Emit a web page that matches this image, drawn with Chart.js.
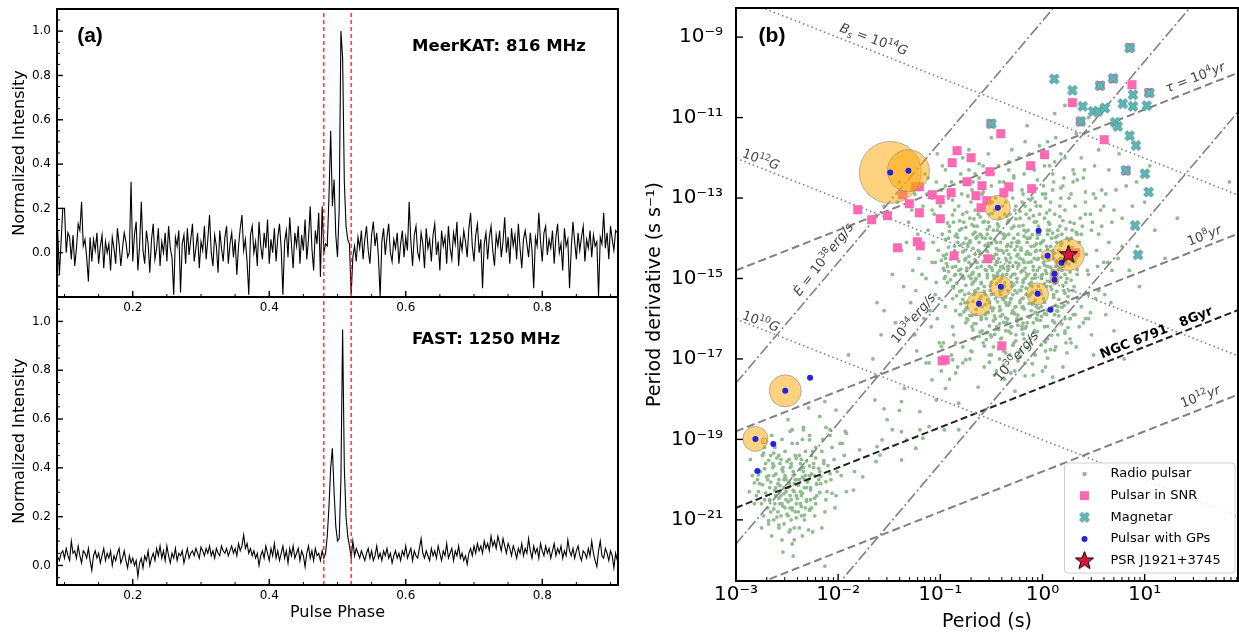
<!DOCTYPE html>
<html>
<head>
<meta charset="utf-8">
<script src="https://cdn.jsdelivr.net/npm/chart.js@4.4.0/dist/chart.umd.min.js"></script>
<style>
  html, body { margin: 0; padding: 0; background: #fff; }
  #wrap { position: relative; width: 1239px; height: 636px; overflow: hidden; }
  canvas { position: absolute; }
</style>
</head>
<body>
<div id="wrap">
  <canvas id="cBot" width="640" height="346" style="left:0;top:290px;width:640px;height:346px"></canvas>
  <canvas id="cTop" width="640" height="330" style="left:0;top:0;width:640px;height:330px"></canvas>
  <canvas id="cRight" width="599" height="636" style="left:640px;top:0;width:599px;height:636px"></canvas>
</div>
<script>
// ---------- panel (a): pulse profiles ----------
const profilePhaseStart = 0.09;
const profilePhaseStep = 0.0025;

const meerkat = [
  0.10,-0.10,0.05,0.20,0.20,0.00,0.09,0.07,-0.03,0.08,-0.06,0.02,0.13,0.10,0.23,0.03,0.06,-0.02,-0.13,0.07,
  -0.04,0.06,0.01,0.09,-0.05,0.03,0.08,-0.07,0.05,0.00,0.04,-0.08,0.07,0.02,-0.05,0.11,0.04,-0.06,0.02,0.09,
  0.05,-0.02,0.00,0.32,-0.04,0.08,0.14,-0.08,0.03,0.23,0.01,-0.05,0.10,0.04,-0.09,0.06,0.13,-0.03,0.02,0.11,
  -0.06,0.05,0.00,0.09,-0.04,0.12,0.02,-0.02,-0.19,0.07,0.03,0.10,-0.18,0.04,0.08,-0.05,0.11,-0.01,0.06,0.13,
  -0.04,0.02,0.09,-0.07,0.05,0.01,0.12,-0.03,0.06,0.17,0.00,-0.06,0.08,0.03,-0.09,0.10,0.02,-0.04,0.07,0.12,
  -0.05,0.04,0.09,-0.02,0.06,-0.10,0.03,0.11,0.17,0.01,0.06,-0.04,-0.19,0.08,0.12,0.00,0.05,-0.06,0.14,0.03,
  -0.03,0.09,0.02,0.15,-0.05,0.06,0.00,0.11,-0.04,0.07,0.13,0.02,-0.19,0.05,0.10,-0.02,0.16,0.04,-0.07,0.09,
  0.03,0.12,-0.05,0.08,0.01,0.15,-0.03,0.06,0.21,0.02,-0.08,0.10,0.04,0.18,-0.11,0.21,0.00,0.04,0.03,0.25,
  0.55,0.21,0.33,0.08,-0.02,0.20,1.00,0.88,0.32,0.12,0.06,0.04,-0.19,-0.02,0.03,-0.04,0.07,0.02,0.10,-0.03,
  0.06,0.12,0.01,-0.05,0.08,0.14,0.03,0.09,-0.02,-0.20,0.05,0.11,-0.01,0.07,0.13,0.00,-0.04,0.06,0.02,0.09,
  -0.05,0.04,0.10,-0.02,0.07,0.01,0.23,0.05,-0.06,0.08,0.12,0.00,-0.03,0.09,0.04,-0.07,0.11,0.02,0.06,-0.04,
  0.08,0.13,-0.01,0.05,-0.08,0.10,0.03,0.07,-0.05,0.12,0.02,-0.03,0.09,0.04,0.14,-0.06,0.06,0.01,0.10,0.05,
  -0.02,0.11,0.18,0.03,-0.04,0.08,0.13,0.00,0.06,-0.16,0.04,0.09,-0.03,0.07,0.12,0.01,-0.06,0.08,0.03,0.10,
  -0.02,0.05,0.16,0.00,0.07,-0.05,0.11,0.03,0.08,-0.03,0.13,0.02,-0.07,0.06,0.10,0.04,-0.02,0.09,0.01,-0.16,
  0.07,0.03,0.18,0.05,-0.04,0.09,0.12,-0.01,0.06,0.02,0.10,-0.05,0.07,0.13,0.00,0.04,-0.08,0.11,0.03,0.06,
  -0.16,0.02,0.14,0.05,-0.03,0.09,0.01,0.07,0.12,-0.04,0.06,0.02,0.10,-0.02,0.08,0.03,0.05,-0.20,0.07,0.04,
  0.18,0.02,0.09,-0.03,0.12,0.06,0.01,0.10,0.09
];

const fast = [
  0.035,0.02,0.05,0.06,0.03,0.07,0.04,0.02,0.10,0.05,0.06,0.03,0.08,0.04,0.01,0.06,0.05,0.03,0.07,0.02,
  -0.02,0.04,0.06,0.03,0.05,0.01,0.04,0.07,0.02,0.05,0.03,0.06,0.00,0.04,0.02,0.05,0.07,0.01,0.03,0.06,
  0.02,-0.01,0.04,0.01,0.03,0.00,0.02,-0.045,0.01,0.03,-0.01,0.04,0.02,0.06,0.00,0.03,0.05,0.02,0.07,0.04,
  0.08,0.03,0.06,0.02,0.08,0.04,0.01,0.05,0.03,0.07,0.02,0.05,0.04,0.06,0.01,0.04,0.07,0.03,0.05,0.06,
  0.04,0.07,0.05,0.03,0.075,0.06,0.04,0.07,0.05,0.08,0.04,0.06,0.03,0.07,0.05,0.04,0.08,0.06,0.05,0.07,
  0.04,0.06,0.08,0.05,0.07,0.04,0.09,0.06,0.08,0.125,0.07,0.09,0.05,0.07,0.04,0.06,0.03,0.05,0.00,0.04,
  0.06,0.03,0.08,0.05,0.02,0.07,0.04,0.09,0.03,0.06,0.02,0.05,0.08,0.03,0.06,0.01,0.07,0.04,0.08,0.03,
  0.05,0.07,0.02,0.06,0.04,-0.005,0.05,0.08,0.03,0.06,0.02,0.07,0.04,0.05,0.02,0.06,0.03,0.05,0.12,0.24,
  0.40,0.48,0.30,0.16,0.10,0.11,0.35,0.967,0.40,0.20,0.12,0.08,0.03,0.10,0.04,0.07,0.05,0.03,0.06,0.04,
  0.02,0.05,0.07,0.03,0.06,0.02,0.04,0.08,0.03,0.05,0.02,0.06,0.04,0.07,0.03,0.05,0.01,0.04,0.06,0.03,
  0.05,0.02,0.06,0.04,0.08,0.03,0.05,0.07,0.02,0.06,0.04,0.03,0.07,0.11,0.05,0.03,0.06,0.04,0.02,0.07,
  0.04,0.06,0.03,0.08,0.05,0.02,0.06,0.04,0.09,0.03,0.05,0.07,0.02,0.06,0.04,0.08,0.03,0.05,0.02,0.04,
  0.005,0.05,0.07,0.04,0.08,0.05,0.09,0.06,0.08,0.05,0.10,0.07,0.09,0.06,0.12,0.08,0.10,0.07,0.12,0.09,
  0.06,0.11,0.08,0.05,0.09,0.07,0.04,0.08,0.06,0.03,0.07,0.05,0.09,0.04,0.07,0.05,0.11,0.06,0.03,0.08,
  0.05,0.07,0.03,0.09,0.06,0.04,0.08,0.05,0.07,0.03,0.06,0.09,0.04,0.07,0.05,0.08,0.03,0.06,0.04,0.105,
  0.06,0.04,0.07,0.03,0.06,0.08,0.04,0.02,0.06,0.05,0.03,0.07,0.04,0.10,0.05,0.02,-0.005,0.06,0.10,0.04,
  0.03,0.07,0.05,0.02,0.06,0.04,-0.01,0.05,0.02
];

const windowEdges = [0.48, 0.52];
const phaseTicks = [0.2, 0.4, 0.6, 0.8];
const intensityTicks = [0, 0.2, 0.4, 0.6, 0.8, 1.0];

// ---------- panel (b): P-Pdot diagram, values are [log10 P, log10 Pdot] ----------
const periodDecades = [-3, -2, -1, 0, 1];
const pdotDecades = [-9, -11, -13, -15, -17, -19, -21];

const radioMain = [
  [-1.52,-13.4],[-1.47,-14.9],[-1.55,-15.8],
  [-1.42,-13.1],[-1.38,-14.3],[-1.36,-15.2],[-1.44,-16.1],[-1.40,-12.6],
  [-1.31,-13.6],[-1.27,-14.8],[-1.34,-12.9],[-1.29,-15.6],[-1.25,-16.4],[-1.33,-14.1],[-1.28,-13.3],
  [-1.21,-14.5],[-1.17,-13.2],[-1.24,-15.3],[-1.19,-12.7],[-1.16,-16.0],[-1.22,-13.9],[-1.18,-14.9],[-1.23,-16.8],[-1.15,-12.4],
  [-1.12,-13.8],[-1.08,-14.6],[-1.05,-15.4],[-1.13,-12.9],[-1.09,-16.2],[-1.06,-13.4],[-1.14,-15.0],[-1.07,-14.1],[-1.11,-17.1],[-1.04,-12.6],[-1.10,-15.8],[-1.08,-13.0],
  [-1.02,-14.3],[-0.97,-13.5],[-1.04,-15.1],[-0.99,-12.8],[-0.96,-14.8],[-1.03,-16.0],[-0.98,-13.9],[-1.01,-15.5],[-0.95,-12.3],[-1.05,-14.6],[-0.97,-16.6],[-1.00,-13.2],[-0.96,-15.0],[-1.03,-11.9],[-0.99,-17.3],
  [-0.92,-14.0],[-0.88,-15.2],[-0.86,-13.3],[-0.93,-14.7],[-0.89,-12.6],[-0.85,-15.8],[-0.91,-13.7],[-0.87,-16.4],[-0.94,-14.4],[-0.90,-12.1],[-0.88,-15.5],[-0.86,-14.2],[-0.92,-13.0],[-0.89,-16.9],[-0.85,-14.9],[-0.93,-15.1],[-0.87,-13.6],[-0.91,-17.5],[-0.95,-14.5],
  [-0.82,-14.8],[-0.78,-13.4],[-0.76,-15.6],[-0.83,-14.1],[-0.79,-12.9],[-0.75,-16.1],[-0.81,-13.8],[-0.77,-15.0],[-0.84,-14.5],[-0.80,-12.4],[-0.78,-16.7],[-0.76,-14.3],[-0.82,-13.2],[-0.79,-15.3],[-0.75,-14.0],[-0.83,-17.2],[-0.77,-13.6],[-0.81,-15.9],[-0.85,-14.7],[-0.78,-12.0],[-0.80,-14.9],[-0.76,-15.4],[-0.84,-13.9],
  [-0.72,-14.6],[-0.68,-13.9],[-0.66,-15.3],[-0.73,-14.2],[-0.69,-12.8],[-0.65,-15.9],[-0.71,-13.5],[-0.67,-16.5],[-0.74,-14.8],[-0.70,-13.1],[-0.68,-15.1],[-0.66,-14.4],[-0.72,-12.3],[-0.69,-16.2],[-0.65,-14.0],[-0.73,-15.6],[-0.67,-13.7],[-0.71,-17.0],[-0.75,-14.5],[-0.68,-12.6],[-0.70,-15.0],[-0.66,-13.3],[-0.74,-16.0],[-0.69,-14.9],[-0.72,-11.8],[-0.67,-15.4],[-0.71,-14.1],
  [-0.62,-14.9],[-0.58,-13.6],[-0.56,-15.4],[-0.63,-14.3],[-0.59,-12.9],[-0.55,-16.0],[-0.61,-13.9],[-0.57,-15.2],[-0.64,-14.6],[-0.60,-13.2],[-0.58,-16.6],[-0.56,-14.0],[-0.62,-12.5],[-0.59,-15.7],[-0.55,-14.8],[-0.63,-13.4],[-0.57,-17.2],[-0.61,-14.4],[-0.65,-15.0],[-0.58,-12.2],[-0.60,-14.7],[-0.56,-15.9],[-0.64,-13.7],[-0.59,-16.3],[-0.62,-14.1],[-0.57,-13.0],[-0.61,-15.5],[-0.55,-14.5],[-0.63,-17.7],[-0.60,-15.1],
  [-0.52,-14.7],[-0.48,-13.8],[-0.46,-15.5],[-0.53,-14.2],[-0.49,-13.1],[-0.45,-16.2],[-0.51,-14.0],[-0.47,-15.0],[-0.54,-14.9],[-0.50,-12.7],[-0.48,-16.7],[-0.46,-14.4],[-0.52,-13.4],[-0.49,-15.8],[-0.45,-14.6],[-0.53,-13.6],[-0.47,-17.4],[-0.51,-15.3],[-0.55,-14.3],[-0.48,-12.4],[-0.50,-15.1],[-0.46,-16.0],[-0.54,-13.9],[-0.49,-14.8],[-0.52,-15.6],[-0.47,-13.3],[-0.51,-16.4],[-0.45,-14.1],[-0.53,-11.9],[-0.50,-15.4],[-0.48,-14.5],[-0.46,-13.0],[-0.52,-16.9],
  [-0.42,-14.8],[-0.38,-13.9],[-0.36,-15.6],[-0.43,-14.3],[-0.39,-13.2],[-0.35,-16.1],[-0.41,-14.1],[-0.37,-15.2],[-0.44,-14.6],[-0.40,-12.9],[-0.38,-16.8],[-0.36,-14.5],[-0.42,-13.5],[-0.39,-15.9],[-0.35,-14.9],[-0.43,-13.7],[-0.37,-17.5],[-0.41,-15.4],[-0.45,-14.4],[-0.38,-12.6],[-0.40,-15.0],[-0.36,-16.3],[-0.44,-13.8],[-0.39,-14.7],[-0.42,-15.7],[-0.37,-13.4],[-0.41,-16.5],[-0.35,-14.2],[-0.43,-12.2],[-0.40,-15.3],[-0.38,-14.0],[-0.36,-13.1],[-0.42,-17.0],[-0.39,-15.5],[-0.44,-14.9],
  [-0.32,-14.6],[-0.28,-13.7],[-0.26,-15.7],[-0.33,-14.4],[-0.29,-13.0],[-0.25,-16.0],[-0.31,-14.2],[-0.27,-15.3],[-0.34,-14.8],[-0.30,-12.8],[-0.28,-16.6],[-0.26,-14.6],[-0.32,-13.4],[-0.29,-15.8],[-0.25,-15.0],[-0.33,-13.9],[-0.27,-17.3],[-0.31,-15.5],[-0.35,-14.3],[-0.28,-12.5],[-0.30,-15.1],[-0.26,-16.4],[-0.34,-13.6],[-0.29,-14.9],[-0.32,-15.6],[-0.27,-13.3],[-0.31,-16.2],[-0.25,-14.1],[-0.33,-12.1],[-0.30,-15.2],[-0.28,-14.0],[-0.26,-13.2],[-0.32,-16.9],[-0.29,-15.4],[-0.34,-14.7],[-0.27,-17.8],
  [-0.22,-14.5],[-0.18,-13.8],[-0.16,-15.4],[-0.23,-14.1],[-0.19,-12.9],[-0.15,-16.1],[-0.21,-14.3],[-0.17,-15.0],[-0.24,-14.7],[-0.20,-13.1],[-0.18,-16.5],[-0.16,-14.4],[-0.22,-13.5],[-0.19,-15.7],[-0.15,-14.9],[-0.23,-13.7],[-0.17,-17.1],[-0.21,-15.3],[-0.25,-14.2],[-0.18,-12.4],[-0.20,-15.2],[-0.16,-16.2],[-0.24,-13.9],[-0.19,-14.8],[-0.22,-15.6],[-0.17,-13.2],[-0.21,-16.0],[-0.15,-14.0],[-0.23,-12.0],[-0.20,-15.5],[-0.18,-14.6],[-0.16,-13.4],[-0.22,-16.8],[-0.19,-15.1],[-0.24,-14.4],[-0.17,-11.6],
  [-0.12,-14.4],[-0.08,-13.6],[-0.06,-15.3],[-0.13,-14.0],[-0.09,-12.8],[-0.05,-15.9],[-0.11,-14.2],[-0.07,-14.9],[-0.14,-14.6],[-0.10,-13.0],[-0.08,-16.3],[-0.06,-14.3],[-0.12,-13.3],[-0.09,-15.6],[-0.05,-14.8],[-0.13,-13.5],[-0.07,-16.9],[-0.11,-15.1],[-0.15,-14.1],[-0.08,-12.3],[-0.10,-15.0],[-0.06,-16.0],[-0.14,-13.8],[-0.09,-14.7],[-0.12,-15.4],[-0.07,-13.1],[-0.11,-15.8],[-0.05,-13.9],[-0.13,-11.9],[-0.10,-15.2],[-0.08,-14.5],[-0.06,-13.2],[-0.12,-16.6],[-0.09,-17.4],
  [-0.02,-14.3],[0.02,-13.5],[0.04,-15.2],[-0.03,-13.9],[0.01,-12.7],[0.05,-15.8],[-0.01,-14.1],[0.03,-14.8],[-0.04,-14.5],[0.00,-12.9],[0.02,-16.2],[0.04,-14.2],[-0.02,-13.2],[0.01,-15.5],[0.05,-14.7],[-0.03,-13.4],[0.03,-16.8],[-0.01,-15.0],[-0.05,-14.0],[0.02,-12.2],[0.00,-14.9],[0.04,-15.9],[-0.04,-13.7],[0.01,-14.6],[-0.02,-15.3],[0.03,-13.0],[-0.01,-15.7],[0.05,-13.8],[-0.03,-11.7],[0.00,-17.3],
  [0.08,-14.2],[0.12,-13.4],[0.14,-15.1],[0.07,-13.8],[0.11,-12.6],[0.15,-15.7],[0.09,-14.0],[0.13,-14.7],[0.06,-14.4],[0.10,-12.8],[0.12,-16.1],[0.14,-14.1],[0.08,-13.1],[0.11,-15.4],[0.15,-14.6],[0.07,-13.3],[0.13,-16.7],[0.09,-14.9],[0.05,-13.9],[0.12,-12.1],[0.10,-14.8],[0.14,-15.8],[0.06,-13.6],[0.11,-14.5],[0.08,-15.2],[0.13,-11.5],
  [0.18,-14.1],[0.22,-13.3],[0.24,-15.0],[0.17,-13.7],[0.21,-12.5],[0.25,-15.6],[0.19,-13.9],[0.23,-14.6],[0.16,-14.3],[0.20,-12.7],[0.22,-16.0],[0.24,-14.0],[0.18,-13.0],[0.21,-15.3],[0.25,-14.5],[0.17,-13.2],[0.23,-16.6],[0.19,-14.8],[0.15,-13.8],[0.22,-12.0],[0.20,-17.2],
  [0.28,-14.0],[0.32,-13.2],[0.34,-14.9],[0.27,-13.6],[0.31,-12.4],[0.35,-15.5],[0.29,-13.8],[0.33,-14.5],[0.26,-14.2],[0.30,-12.6],[0.32,-15.9],[0.34,-13.9],[0.28,-12.9],[0.31,-15.2],[0.35,-14.4],[0.27,-16.5],
  [0.38,-13.9],[0.42,-13.1],[0.44,-14.8],[0.37,-13.5],[0.41,-12.3],[0.45,-15.4],[0.39,-13.7],[0.43,-14.4],[0.36,-14.1],[0.40,-12.5],[0.42,-16.0],
  [0.48,-13.8],[0.52,-13.0],[0.54,-14.7],[0.47,-13.4],[0.51,-12.2],[0.55,-15.3],[0.49,-13.6],[0.53,-14.3],
  [0.58,-13.7],[0.62,-12.9],[0.64,-14.6],[0.57,-13.3],[0.61,-15.4],
  [0.68,-13.6],[0.72,-12.8],[0.74,-14.5],[0.67,-15.6],
  [0.78,-13.5],[0.82,-12.7],[0.85,-14.8],
  [0.88,-13.2],[0.93,-14.2]
];

// dense core of the normal pulsar population
const radioCore = [
  [-0.88,-13.42],[-0.74,-13.35],[-0.61,-13.47],[-0.49,-13.38],[-0.35,-13.45],[-0.22,-13.33],[-0.09,-13.44],[0.04,-13.37],[0.17,-13.46],[-0.67,-13.52],
  [-0.93,-13.62],[-0.81,-13.57],[-0.69,-13.66],[-0.57,-13.58],[-0.44,-13.64],[-0.33,-13.55],[-0.19,-13.68],[-0.06,-13.59],[0.07,-13.65],[0.20,-13.56],[-0.52,-13.71],[-0.26,-13.52],[0.31,-13.63],[-0.75,-13.73],
  [-0.91,-13.83],[-0.79,-13.76],[-0.66,-13.85],[-0.54,-13.78],[-0.41,-13.86],[-0.30,-13.75],[-0.16,-13.84],[-0.03,-13.79],[0.10,-13.87],[0.23,-13.77],[-0.60,-13.92],[-0.36,-13.93],[-0.10,-13.91],[0.15,-13.94],[-0.85,-13.95],[0.33,-13.85],
  [-0.95,-14.03],[-0.83,-13.98],[-0.71,-14.06],[-0.59,-13.99],[-0.47,-14.05],[-0.37,-13.97],[-0.24,-14.07],[-0.12,-13.99],[0.01,-14.06],[0.13,-13.98],[0.26,-14.05],[-0.77,-14.12],[-0.53,-14.13],[-0.30,-14.11],[-0.06,-14.14],[0.19,-14.12],[-0.64,-13.96],[-0.18,-13.95],
  [-0.92,-14.22],[-0.80,-14.17],[-0.68,-14.25],[-0.56,-14.18],[-0.45,-14.26],[-0.34,-14.16],[-0.21,-14.24],[-0.08,-14.19],[0.05,-14.27],[0.18,-14.17],[0.29,-14.23],[-0.86,-14.31],[-0.62,-14.32],[-0.40,-14.30],[-0.15,-14.33],[0.10,-14.31],[-0.73,-14.14],[-0.50,-14.13],[-0.27,-14.29],[-0.02,-14.13],
  [-0.97,-14.43],[-0.84,-14.37],[-0.72,-14.45],[-0.60,-14.38],[-0.48,-14.46],[-0.38,-14.36],[-0.25,-14.44],[-0.13,-14.39],[0.00,-14.47],[0.12,-14.37],[0.24,-14.44],[-0.90,-14.52],[-0.66,-14.53],[-0.43,-14.51],[-0.19,-14.54],[0.06,-14.52],[-0.78,-14.34],[-0.54,-14.33],[-0.31,-14.49],[-0.07,-14.33],[0.18,-14.50],[0.30,-14.35],
  [-0.94,-14.63],[-0.82,-14.57],[-0.70,-14.65],[-0.58,-14.58],[-0.46,-14.66],[-0.35,-14.56],[-0.23,-14.64],[-0.11,-14.59],[0.02,-14.67],[0.14,-14.57],[0.26,-14.64],[-0.88,-14.72],[-0.64,-14.73],[-0.41,-14.71],[-0.17,-14.74],[0.08,-14.72],[-0.76,-14.54],[-0.52,-14.53],[-0.29,-14.69],[-0.05,-14.53],[0.20,-14.70],[-0.99,-14.55],[-0.38,-14.75],[0.32,-14.58],
  [-0.92,-14.83],[-0.80,-14.77],[-0.68,-14.85],[-0.56,-14.78],[-0.44,-14.86],[-0.33,-14.76],[-0.21,-14.84],[-0.09,-14.79],[0.04,-14.87],[0.16,-14.77],[0.27,-14.84],[-0.86,-14.92],[-0.62,-14.93],[-0.39,-14.91],[-0.15,-14.94],[0.10,-14.92],[-0.74,-14.74],[-0.50,-14.73],[-0.27,-14.89],[-0.03,-14.73],[0.22,-14.90],[-0.97,-14.75],[-0.45,-14.95],[0.34,-14.78],
  [-0.90,-15.03],[-0.78,-14.97],[-0.66,-15.05],[-0.54,-14.98],[-0.42,-15.06],[-0.31,-14.96],[-0.19,-15.04],[-0.07,-14.99],[0.06,-15.07],[0.18,-14.97],[0.28,-15.04],[-0.84,-15.12],[-0.60,-15.13],[-0.37,-15.11],[-0.13,-15.14],[0.12,-15.12],[-0.72,-14.94],[-0.48,-14.93],[-0.25,-15.09],[-0.01,-14.93],[0.23,-15.10],[-0.95,-14.95],
  [-0.87,-15.23],[-0.75,-15.17],[-0.63,-15.25],[-0.51,-15.18],[-0.39,-15.26],[-0.28,-15.16],[-0.16,-15.24],[-0.04,-15.19],[0.09,-15.27],[0.20,-15.17],[-0.81,-15.32],[-0.57,-15.33],[-0.34,-15.31],[-0.10,-15.34],[0.14,-15.32],[-0.69,-15.14],[-0.45,-15.13],[-0.22,-15.29],[0.02,-15.13],[0.26,-15.30],
  [-0.84,-15.43],[-0.72,-15.37],[-0.60,-15.45],[-0.48,-15.38],[-0.36,-15.46],[-0.25,-15.36],[-0.13,-15.44],[-0.01,-15.39],[0.11,-15.47],[0.22,-15.37],[-0.78,-15.52],[-0.54,-15.53],[-0.31,-15.51],[-0.07,-15.54],[0.16,-15.52],[-0.66,-15.34],[-0.42,-15.33],[-0.19,-15.49],
  [-0.80,-15.63],[-0.68,-15.57],[-0.56,-15.65],[-0.44,-15.58],[-0.33,-15.66],[-0.22,-15.56],[-0.10,-15.64],[0.02,-15.59],[0.13,-15.67],[-0.74,-15.72],[-0.50,-15.73],[-0.27,-15.71],[-0.04,-15.74],[0.19,-15.72],[-0.62,-15.54],[-0.38,-15.53],
  [-0.77,-15.83],[-0.65,-15.77],[-0.53,-15.85],[-0.41,-15.78],[-0.30,-15.86],[-0.18,-15.76],[-0.07,-15.84],[0.05,-15.79],[-0.71,-15.92],[-0.47,-15.93],[-0.24,-15.91],[-0.01,-15.94],[0.12,-15.90],
  [-0.73,-16.03],[-0.60,-15.97],[-0.48,-16.05],[-0.36,-15.98],[-0.25,-16.06],[-0.13,-15.96],[-0.02,-16.04],[-0.67,-16.12],[-0.42,-16.13],[-0.19,-16.11],
  [-0.68,-16.28],[-0.55,-16.35],[-0.43,-16.27],[-0.31,-16.36],[-0.20,-16.26],[-0.08,-16.34],[-0.50,-16.45],
  [-1.25,-12.9],[-1.12,-12.5],[-1.02,-13.1],[-0.95,-12.7],[-0.88,-13.05],[-0.80,-12.6],[-0.73,-12.95],[-0.66,-12.4],[-0.58,-12.85],[-0.50,-13.1],
  [-0.42,-12.6],[-0.36,-12.95],[-0.28,-12.45],[-0.20,-12.8],[-0.12,-13.05],[-0.05,-12.55],[0.03,-12.9],[0.10,-12.4],[0.18,-12.75],[0.26,-13.0],
  [0.34,-12.55],[0.42,-12.85],[-1.08,-13.3],[-0.98,-12.2],[-0.62,-12.15],[-0.33,-12.3],[0.07,-12.2],[0.30,-12.3],[0.50,-12.9],[0.60,-13.2],
  [0.30,-15.3],[0.38,-15.7],[0.45,-14.9],[0.52,-15.5],[0.60,-14.6],[0.36,-16.2],[0.27,-16.0],[0.48,-16.4],[0.42,-13.4],[0.55,-13.9],
  [0.65,-14.1],[0.70,-13.3],[0.62,-15.9],[0.33,-16.7],[0.15,-16.4],[0.05,-16.5],[0.22,-16.3],[0.58,-12.8],[0.78,-14.2],[0.68,-14.8]
];

// lower, older edge of the normal population
const radioLower = [
  [-0.62,-15.68],[-0.48,-15.74],[-0.35,-15.66],[-0.20,-15.72],[-0.06,-15.69],[0.08,-15.75],[0.21,-15.67],[-0.75,-15.77],[-0.42,-15.80],[-0.13,-15.62],[0.15,-15.81],[-0.28,-15.85],
  [-0.69,-15.92],[-0.55,-15.86],[-0.41,-15.94],[-0.27,-15.88],[-0.12,-15.95],[0.02,-15.87],[0.16,-15.93],[0.27,-15.99],[-0.60,-16.02],[-0.34,-16.01],[-0.05,-16.03],[0.10,-16.05],
  [-0.65,-16.12],[-0.52,-16.18],[-0.38,-16.09],[-0.24,-16.16],[-0.09,-16.10],[0.05,-16.19],[0.19,-16.13],[-0.45,-16.25],[-0.17,-16.24],[0.12,-16.28],[-0.30,-16.20],[0.25,-16.22],
  [-0.61,-16.33],[-0.47,-16.39],[-0.33,-16.31],[-0.19,-16.38],[-0.05,-16.32],[0.09,-16.41],[0.22,-16.36],[-0.40,-16.48],[-0.12,-16.50],[-0.26,-16.55],[0.03,-16.58],[-0.55,-16.52],
  [-0.57,-16.68],[-0.43,-16.74],[-0.29,-16.66],[-0.15,-16.72],[-0.01,-16.65],[0.12,-16.78],[-0.36,-16.85],[-0.08,-16.88],[-0.22,-16.95],[0.05,-16.98],[-0.50,-16.90],
  [-0.52,-17.08],[-0.38,-17.15],[-0.24,-17.05],[-0.10,-17.12],[0.03,-17.20],[-0.31,-17.35],[-0.17,-17.42],[-0.45,-17.30],[0.10,-17.45],
  [0.30,-15.90],[0.35,-15.50],[0.40,-16.10],[0.28,-16.60],[0.45,-16.00],[0.25,-15.45],
  [-0.80,-15.90],[-0.88,-16.20],[-0.95,-15.70],[-0.85,-16.60],[-0.70,-16.80],[-0.78,-17.10]
];

const radioOutliers = [
  [0.05,-11.6],[0.18,-11.9],[0.33,-11.4],[0.45,-11.0],[0.22,-10.7],[0.55,-11.8],[0.38,-12.0],[0.65,-12.3],
  [0.75,-11.9],[0.92,-12.6],[1.00,-13.1],[1.05,-12.2],[0.85,-11.5],[-0.30,-11.8],[-0.50,-11.5],[-0.15,-11.2],
  [0.12,-10.9],[-1.62,-15.6],[-1.58,-16.4],[-1.66,-17.0],[-1.55,-13.2],[1.10,-13.8],[1.20,-14.5],[0.95,-15.2],
  [0.70,-16.3],[0.50,-16.9],[0.80,-17.0],[1.32,-13.5],[1.83,-12.6],[0.08,-16.77],[0.24,-16.85],[0.47,-15.85],
  [-0.20,-16.19],[-2.13,-22.15]
];

const radioBridge = [
  [-1.90,-16.90],[-1.64,-18.02],[-1.55,-18.24],[-1.40,-18.28],[-1.52,-18.51],[-1.57,-19.01],[-1.62,-19.18],
  [-1.47,-18.76],[-1.38,-18.81],[-1.20,-18.76],[-1.11,-18.68],[-1.33,-19.01],[-1.63,-19.55],[-1.84,-19.80],
  [-1.59,-19.39],[-1.38,-19.51],[-0.99,-16.69],[-0.85,-17.35],[-0.75,-17.02],[-1.14,-17.10],[-0.95,-17.73],
  [-0.82,-18.10],[-1.04,-18.02],[-0.69,-16.82],[-0.62,-16.44],[-1.08,-17.52],[-2.18,-18.43],[-2.08,-18.76],
  [-1.92,-18.85],[-1.98,-19.10],[-1.79,-19.26],[-2.13,-18.06],[-2.02,-18.27],[-2.29,-18.22],[-2.49,-18.51],
  [-2.45,-18.76],[-2.34,-18.76],[-2.63,-19.34],[-2.73,-19.34],[-2.40,-19.10],[-2.28,-19.01],[-1.63,-17.43],
  [-1.38,-18.06],[-1.35,-17.73],[-1.20,-18.31],[-0.96,-18.76],[-1.24,-19.22],[-1.85,-20.26],[-1.76,-19.93],
  [-2.06,-20.34],[-2.28,-20.76],[-2.29,-21.25],[-2.47,-21.25],[-2.58,-21.13],[-2.68,-21.02],[-1.01,-16.60],
  [-0.88,-17.02],[-1.17,-18.97],[-0.82,-18.76]
];

const radioMsp = [
  [-2.84,-19.9],[-2.87,-20.3],[-2.82,-20.6],[-2.86,-19.5],
  [-2.74,-19.4],[-2.77,-20.1],[-2.72,-20.5],[-2.76,-19.8],[-2.73,-20.9],[-2.78,-20.3],[-2.71,-19.6],[-2.75,-21.2],[-2.79,-20.0],[-2.72,-19.2],
  [-2.64,-19.7],[-2.67,-20.2],[-2.62,-20.6],[-2.66,-19.4],[-2.63,-21.0],[-2.68,-19.9],[-2.61,-20.4],[-2.65,-21.4],[-2.69,-20.0],[-2.62,-19.2],[-2.66,-20.8],[-2.64,-19.6],[-2.67,-20.5],[-2.63,-19.9],[-2.68,-21.1],[-2.61,-20.2],[-2.65,-18.9],[-2.69,-20.7],
  [-2.54,-19.8],[-2.57,-20.3],[-2.52,-20.7],[-2.56,-19.5],[-2.53,-21.1],[-2.58,-20.0],[-2.51,-20.5],[-2.55,-21.5],[-2.59,-20.1],[-2.52,-19.3],[-2.56,-20.9],[-2.54,-19.7],[-2.57,-20.6],[-2.53,-20.0],[-2.58,-21.2],[-2.51,-20.3],[-2.55,-19.0],[-2.59,-20.8],[-2.52,-19.9],[-2.56,-20.4],[-2.54,-21.8],[-2.57,-19.6],[-2.53,-20.2],[-2.58,-19.4],[-2.51,-20.0],[-2.55,-20.6],
  [-2.44,-19.9],[-2.47,-20.4],[-2.42,-20.8],[-2.46,-19.6],[-2.43,-21.2],[-2.48,-20.1],[-2.41,-20.6],[-2.45,-21.6],[-2.49,-20.2],[-2.42,-19.4],[-2.46,-21.0],[-2.44,-19.8],[-2.47,-20.7],[-2.43,-20.1],[-2.48,-21.3],[-2.41,-20.4],[-2.45,-19.1],[-2.49,-20.9],[-2.42,-20.0],[-2.46,-20.5],[-2.44,-21.9],[-2.47,-19.7],[-2.43,-20.3],[-2.48,-19.5],[-2.41,-20.0],[-2.45,-20.7],[-2.47,-18.8],[-2.43,-21.5],
  [-2.34,-19.8],[-2.37,-20.3],[-2.32,-20.7],[-2.36,-19.5],[-2.33,-21.0],[-2.38,-20.0],[-2.31,-20.5],[-2.35,-21.4],[-2.39,-20.1],[-2.32,-19.3],[-2.36,-20.9],[-2.34,-19.7],[-2.37,-20.6],[-2.33,-20.0],[-2.38,-21.2],[-2.31,-20.2],[-2.35,-19.0],[-2.39,-20.8],[-2.32,-19.9],[-2.36,-20.4],[-2.34,-18.7],[-2.37,-19.6],[-2.33,-20.2],[-2.38,-19.4],
  [-2.24,-19.7],[-2.27,-20.2],[-2.22,-20.6],[-2.26,-19.4],[-2.23,-20.9],[-2.28,-19.9],[-2.21,-20.4],[-2.25,-21.3],[-2.29,-20.0],[-2.22,-19.2],[-2.26,-20.7],[-2.24,-19.6],[-2.27,-20.5],[-2.23,-19.9],[-2.28,-18.9],[-2.21,-20.1],[-2.25,-19.3],
  [-2.14,-19.6],[-2.17,-20.1],[-2.12,-20.5],[-2.16,-19.3],[-2.13,-20.8],[-2.18,-19.8],[-2.11,-20.3],[-2.15,-19.0],[-2.19,-20.0],[-2.12,-18.7],[-2.16,-21.2],
  [-2.04,-19.5],[-2.07,-20.0],[-2.02,-20.4],[-2.06,-19.2],[-2.03,-20.7],[-2.08,-18.9],[-2.01,-19.8],
  [-1.94,-19.4],[-1.97,-19.9],[-1.92,-20.3],[-1.96,-19.1],[-1.93,-18.8],
  [-2.68,-19.52],[-2.60,-19.46],[-2.50,-19.55],[-2.41,-19.47],[-2.31,-19.54],[-2.22,-19.46],[-2.14,-19.53],
  [-2.72,-19.73],[-2.63,-19.66],[-2.55,-19.75],[-2.46,-19.67],[-2.37,-19.74],[-2.28,-19.66],[-2.19,-19.72],[-2.10,-19.65],
  [-2.70,-19.93],[-2.61,-19.86],[-2.52,-19.95],[-2.43,-19.87],[-2.35,-19.94],[-2.26,-19.86],[-2.17,-19.92],[-2.08,-19.85],[-2.78,-19.88],
  [-2.74,-20.13],[-2.66,-20.06],[-2.57,-20.15],[-2.48,-20.07],[-2.39,-20.14],[-2.30,-20.06],[-2.21,-20.12],[-2.12,-20.05],[-2.82,-20.08],
  [-2.71,-20.33],[-2.62,-20.26],[-2.53,-20.35],[-2.44,-20.27],[-2.35,-20.34],[-2.27,-20.26],[-2.18,-20.32],[-2.80,-20.40],
  [-2.67,-20.53],[-2.58,-20.46],[-2.49,-20.55],[-2.40,-20.47],[-2.31,-20.54],[-2.23,-20.46],[-2.75,-20.60],
  [-2.63,-20.73],[-2.54,-20.66],[-2.45,-20.75],[-2.36,-20.67],[-2.28,-20.74],
  [-2.60,-20.93],[-2.50,-20.86],[-2.41,-20.95],[-2.33,-20.88]
];

const snrPulsars = [
  [-0.836,-11.823],[-0.699,-11.998],[-0.884,-12.122],[-0.515,-12.346],[-0.116,-12.197],[0.020,-11.923],
  [-0.408,-11.401],[0.604,-11.550],[-0.738,-12.595],[-0.592,-12.694],[-0.330,-12.719],[-0.378,-12.868],
  [-0.106,-12.769],[-0.651,-12.943],[-0.894,-12.868],[-1.001,-13.042],[-1.079,-12.918],[-1.205,-12.719],
  [-1.303,-13.142],[-1.205,-13.366],[-1.001,-13.515],[-1.517,-13.440],[-1.672,-13.540],[-1.808,-13.291],
  [-1.419,-14.236],[-1.225,-14.087],[-1.196,-14.187],[-0.865,-14.435],[-0.534,-14.510],[-0.602,-13.241],
  [-0.544,-13.067],[-0.398,-16.674],[-1.371,-12.918],[-1.244,-12.719],[-0.505,-11.152],[0.293,-10.629],
  [0.857,-9.261],[0.876,-10.182],[0.371,-11.102],[0.565,-10.206],[0.692,-10.032],[1.042,-10.381],
  [0.818,-12.321],[-0.982,-17.047],[-0.952,-17.022],[0.322,-14.361]
];

const magnetars = [
  [0.115,-10.040],[0.293,-10.323],[0.394,-10.721],[0.495,-10.846],[0.544,-10.846],[0.611,-10.761],
  [0.375,-11.095],[0.562,-10.206],[0.692,-10.025],[0.853,-9.269],[0.886,-10.430],[0.786,-10.654],
  [0.886,-10.721],[1.020,-10.704],[1.047,-10.388],[0.711,-11.119],[0.737,-11.219],[0.853,-11.450],
  [0.915,-11.692],[0.815,-12.313],[1.002,-12.396],[1.039,-12.851],[0.906,-13.682],[0.935,-14.410],
  [-0.500,-11.152]
];

const gpPulsars = [
  [-1.490,-12.363],[-1.312,-12.321],[-0.437,-13.241],[-0.038,-13.813],[0.050,-14.435],[0.186,-14.609],
  [0.118,-14.883],[0.118,-15.032],[-0.408,-15.206],[-0.048,-15.381],[-0.622,-15.630],[0.079,-15.778],
  [-2.518,-17.793],[-2.275,-17.470],[-2.810,-18.988],[-2.635,-19.112],[-2.791,-19.784]
];

// giant-pulse halo centres and bubble radii
const gpHalo = [
  [-1.490,-12.363],[-1.312,-12.321],[-0.437,-13.241],[0.254,-14.410],[0.050,-14.435],[0.186,-14.609],
  [0.118,-14.883],[0.118,-15.032],[-0.408,-15.206],[-0.048,-15.381],[-0.622,-15.630],[-2.518,-17.793],
  [-2.810,-18.988],[-2.723,-19.037]
];
const haloR = [31, 21, 12.5, 16, 6, 5, 4.5, 4.5, 11, 11, 12, 16, 12.5, 3];

const targetPulsar = [0.254, -14.41];

// reference lines, endpoints [log P, log Pdot]
const bFieldLines = [[[-3, -8.01], [2, -13.01]], [[-3, -12.01], [2, -17.01]], [[-3, -16.01], [2, -21.01]]];
const ageLines = [[[-3, -14.80], [2, -9.80]], [[-3, -18.80], [2, -13.80]], [[-3, -22.80], [2, -17.80]]];
const edotLines = [[[-3, -17.60], [1, -5.60]], [[-3, -21.60], [1.5, -8.10]], [[-3, -25.60], [2, -10.60]]];
const clusterAgeLine = [[-3, -20.70], [2, -15.70]];

// ---------- helpers ----------
Chart.defaults.font.family = "'DejaVu Sans', sans-serif";
Chart.defaults.color = '#000';

const FAM = "'DejaVu Sans', sans-serif";
const toXY = arr => arr.map(p => ({ x: Math.pow(10, p[0]), y: Math.pow(10, p[1]) }));
const phases = meerkat.map((_, i) => +(profilePhaseStart + i * profilePhaseStep).toFixed(4));

// no automatic label padding: the plot frames are placed by hand
const noPad = s => { s.paddingTop = 0; s.paddingBottom = 0; s.paddingLeft = 0; s.paddingRight = 0; };

function drawRich(ctx, segs, x, y, size, rot, color) {
  const parts = segs.map(s => {
    const fs = (s.sup || s.sub) ? size * 0.7 : size;
    const font = (s.it ? 'italic ' : '') + (s.b ? 'bold ' : '') + fs + 'px ' + FAM;
    ctx.font = font;
    return { s, font, w: ctx.measureText(s.t).width, dy: s.sup ? -size * 0.4 : (s.sub ? size * 0.22 : 0) };
  });
  const total = parts.reduce((a, p) => a + p.w, 0);
  ctx.save();
  ctx.translate(x, y);
  ctx.rotate(rot * Math.PI / 180);
  ctx.fillStyle = color;
  ctx.textAlign = 'left';
  ctx.textBaseline = 'alphabetic';
  let cx = -total / 2;
  parts.forEach(p => { ctx.font = p.font; ctx.fillText(p.s.t, cx, size * 0.36 + p.dy); cx += p.w; });
  ctx.restore();
}

function frameTicks(spec) {
  return {
    id: 'frameTicks',
    afterDatasetsDraw(chart) {
      const { ctx, chartArea: a, scales } = chart;
      ctx.save();
      ctx.strokeStyle = '#000';
      const seg = (x1, y1, x2, y2, w) => { ctx.lineWidth = w; ctx.beginPath(); ctx.moveTo(x1, y1); ctx.lineTo(x2, y2); ctx.stroke(); };
      spec.xMajor.forEach(v => { const p = scales.x.getPixelForValue(v); seg(p, a.bottom, p, a.bottom - spec.major, 1.4); });
      spec.xMinor.forEach(v => { const p = scales.x.getPixelForValue(v); seg(p, a.bottom, p, a.bottom - spec.minor, 1); });
      spec.yMajor.forEach(v => { const p = scales.y.getPixelForValue(v); seg(a.left, p, a.left + spec.major, p, 1.4); });
      spec.yMinor.forEach(v => { const p = scales.y.getPixelForValue(v); seg(a.left, p, a.left + spec.minor, p, 1); });
      ctx.lineWidth = 2;
      ctx.strokeRect(a.left, a.top, a.right - a.left, a.bottom - a.top);
      ctx.restore();
    }
  };
}

function textLayer(fn) {
  return { id: 'textLayer', afterDraw(chart) { const ctx = chart.ctx; ctx.save(); fn(ctx, chart); ctx.restore(); } };
}

const minorRange = (a, b, step, skip) => {
  const out = [];
  for (let v = a; v <= b + 1e-9; v += step) {
    const r = Math.round(v * 100) / 100;
    if (!skip.some(s => Math.abs(s - r) < 1e-6)) out.push(r);
  }
  return out;
};

function profileChart(id, values, yMin, pad, xHeight, showTitle, label) {
  return new Chart(document.getElementById(id), {
    type: 'line',
    data: {
      datasets: [
        { data: values.map((v, i) => ({ x: phases[i], y: v })), borderColor: '#000', borderWidth: 1.1, pointRadius: 0, order: 2 },
        ...windowEdges.map(p => ({ data: [{ x: p, y: yMin }, { x: p, y: 1.1 }], borderColor: '#ff1a1a', borderWidth: 1.3, borderDash: [4, 3], pointRadius: 0, order: 1 }))
      ]
    },
    options: {
      responsive: false, animation: false, events: [],
      layout: { padding: { left: 0, right: 22, top: pad, bottom: 0 }, autoPadding: false },
      plugins: { legend: { display: false }, tooltip: { enabled: false } },
      scales: {
        x: {
          type: 'linear', min: 0.089, max: 0.911,
          grid: { display: false, drawTicks: false }, border: { display: false },
          afterBuildTicks: s => { s.ticks = phaseTicks.map(v => ({ value: v })); },
          afterFit: s => { s.height = xHeight; noPad(s); },
          ticks: { font: { size: 12 }, color: '#000', padding: 4, maxRotation: 0, autoSkip: false, callback: v => v.toFixed(1) },
          title: { display: showTitle, text: 'Pulse Phase', font: { size: 16 }, color: '#000', padding: { top: 0, bottom: 14 } }
        },
        y: {
          type: 'linear', min: yMin, max: 1.1,
          grid: { display: false, drawTicks: false }, border: { display: false },
          afterBuildTicks: s => { s.ticks = intensityTicks.map(v => ({ value: v })); },
          afterFit: s => { s.width = 57; noPad(s); },
          ticks: { font: { size: 12 }, color: '#000', padding: 6, autoSkip: false, callback: v => v.toFixed(1) },
          title: { display: true, text: 'Normalized Intensity', font: { size: 16 }, color: '#000', padding: { top: 10, bottom: 0 } }
        }
      }
    },
    plugins: [
      frameTicks({
        major: 6, minor: 3,
        xMajor: phaseTicks, xMinor: minorRange(0.1, 0.9, 0.05, phaseTicks),
        yMajor: intensityTicks, yMinor: minorRange(yMin < -0.1 ? -0.15 : -0.05, 1.05, 0.05, intensityTicks)
      }),
      textLayer(label)
    ]
  });
}

profileChart('cBot', fast, -0.08, 7, 51, true, ctx => {
  ctx.font = 'bold 16.5px ' + FAM; ctx.textAlign = 'center'; ctx.textBaseline = 'middle';
  ctx.fillText('FAST: 1250 MHz', 486, 50);
});

profileChart('cTop', meerkat, -0.2, 9, 33, false, ctx => {
  ctx.font = 'bold 21px "Liberation Sans", Arial, sans-serif'; ctx.textAlign = 'center'; ctx.textBaseline = 'middle';
  ctx.fillText('(a)', 90, 36);
  ctx.font = 'bold 16.5px ' + FAM;
  ctx.fillText('MeerKAT: 816 MHz', 499, 47);
});

// ---------- marker images ----------
function starImage(r) {
  const c = document.createElement('canvas'); const s = Math.ceil(r * 2 + 4); c.width = s; c.height = s;
  const g = c.getContext('2d'); g.beginPath();
  for (let i = 0; i < 10; i++) {
    const rr = i % 2 ? r * 0.42 : r; const a = -Math.PI / 2 + i * Math.PI / 5;
    g.lineTo(s / 2 + rr * Math.cos(a), s / 2 + rr * Math.sin(a));
  }
  g.closePath(); g.fillStyle = '#dc143c'; g.fill(); g.lineWidth = 1; g.strokeStyle = '#000'; g.stroke();
  return c;
}
function xImage(h) {
  const c = document.createElement('canvas'); const s = Math.ceil(h * 2 + 6); c.width = s; c.height = s;
  const g = c.getContext('2d'); const m = s / 2;
  const arms = () => { g.beginPath(); g.moveTo(m - h, m - h); g.lineTo(m + h, m + h); g.moveTo(m + h, m - h); g.lineTo(m - h, m + h); g.stroke(); };
  g.lineCap = 'butt';
  g.strokeStyle = '#6a8a8a'; g.lineWidth = 4.2; arms();
  g.strokeStyle = '#55bdbd'; g.lineWidth = 2.6; arms();
  return c;
}
const starImg = starImage(9.5);
const magImg = xImage(3.9);

// ---------- panel (b) chart ----------
const GREEN = 'rgb(143,188,143)';
const PINK = '#ff69b4';
const BLUE = '#2323e6';
const GREY = '#808080';

const lineSet = (pts, style) => Object.assign({
  type: 'scatter', data: toXY(pts), showLine: true, pointRadius: 0, fill: false, order: 8
}, style);

const rightDatasets = [
  { data: toXY(radioMain.concat(radioCore, radioLower, radioOutliers, radioBridge, radioMsp)), pointRadius: 1.9, pointBackgroundColor: GREEN, pointBorderWidth: 0, order: 9 },
  ...bFieldLines.map(l => lineSet(l, { borderColor: GREY, borderWidth: 1.6, borderDash: [1.5, 3] })),
  ...ageLines.map(l => lineSet(l, { borderColor: GREY, borderWidth: 2, borderDash: [8, 4] })),
  ...edotLines.map(l => lineSet(l, { borderColor: GREY, borderWidth: 1.6, borderDash: [11, 3, 2, 3] })),
  lineSet(clusterAgeLine, { borderColor: '#222', borderWidth: 2, borderDash: [7, 3.5] }),
  { data: toXY(snrPulsars), pointStyle: 'rect', pointRadius: 6.4, pointBackgroundColor: PINK, pointBorderWidth: 0, order: 7 },
  { data: toXY(magnetars), pointStyle: magImg, order: 6 },
  { data: toXY(gpHalo), pointRadius: haloR, pointBackgroundColor: 'rgba(255,165,0,0.5)', pointBorderColor: 'rgba(128,128,128,0.55)', pointBorderWidth: 1, order: 5 },
  { data: toXY(gpPulsars), pointRadius: 3, pointBackgroundColor: BLUE, pointBorderWidth: 0, order: 4 },
  { data: toXY([targetPulsar]), pointStyle: starImg, order: 3 }
];

const supMap = { '-': '⁻', '0': '⁰', '1': '¹', '2': '²', '3': '³', '4': '⁴', '5': '⁵', '6': '⁶', '7': '⁷', '8': '⁸', '9': '⁹' };
const pow10Label = v => '10' + String(Math.round(Math.log10(v))).split('').map(c => supMap[c]).join('');

const xMinorLog = [];
for (let k = -3; k <= 1; k++) for (let m = 2; m <= 9; m++) { const v = m * Math.pow(10, k); if (v < Math.pow(10, 1.914)) xMinorLog.push(v); }

new Chart(document.getElementById('cRight'), {
  type: 'scatter',
  data: { datasets: rightDatasets },
  options: {
    responsive: false, animation: false, events: [],
    layout: { padding: { left: 0, right: 1, top: 8, bottom: 0 }, autoPadding: false },
    plugins: { legend: { display: false }, tooltip: { enabled: false } },
    scales: {
      x: {
        type: 'logarithmic', min: 1e-3, max: Math.pow(10, 1.914),
        grid: { display: false, drawTicks: false }, border: { display: false },
        afterBuildTicks: s => { s.ticks = periodDecades.map(d => ({ value: Math.pow(10, d) })); },
        afterFit: s => { s.height = 55; noPad(s); },
        ticks: { font: { size: 20 }, color: '#000', padding: 2, maxRotation: 0, autoSkip: false, callback: v => pow10Label(v) },
        title: { display: true, text: 'Period (s)', font: { size: 19 }, color: '#000', padding: { top: 0, bottom: 3 } }
      },
      y: {
        type: 'logarithmic', min: Math.pow(10, -22.52), max: Math.pow(10, -8.276),
        grid: { display: false, drawTicks: false }, border: { display: false },
        afterBuildTicks: s => { s.ticks = pdotDecades.map(d => ({ value: Math.pow(10, d) })); },
        afterFit: s => { s.width = 96; noPad(s); },
        ticks: { font: { size: 20 }, color: '#000', padding: 13, autoSkip: false, callback: v => pow10Label(v) },
        title: { display: true, text: 'Period derivative (s s⁻¹)', font: { size: 19 }, color: '#000', padding: { top: 4, bottom: 0 } }
      }
    }
  },
  plugins: [
    frameTicks({
      major: 7, minor: 4,
      xMajor: periodDecades.map(d => Math.pow(10, d)), xMinor: xMinorLog,
      yMajor: pdotDecades.map(d => Math.pow(10, d)), yMinor: []
    }),
    textLayer(ctx => {
      ctx.font = 'bold 21px "Liberation Sans", Arial, sans-serif'; ctx.textAlign = 'center'; ctx.textBaseline = 'middle'; ctx.fillStyle = '#000';
      ctx.fillText('(b)', 132, 36);
      const lc = '#444';
      drawRich(ctx, [{ t: 'B', it: 1 }, { t: 's', sub: 1, it: 1 }, { t: ' = 10' }, { t: '14', sup: 1 }, { t: 'G', it: 1 }], 234, 39, 13, 20, lc);
      drawRich(ctx, [{ t: '10' }, { t: '12', sup: 1 }, { t: 'G', it: 1 }], 121, 159, 13, 20, lc);
      drawRich(ctx, [{ t: '10' }, { t: '10', sup: 1 }, { t: 'G', it: 1 }], 121, 321, 13, 20, lc);
      drawRich(ctx, [{ t: 'τ', it: 1 }, { t: ' = 10' }, { t: '4', sup: 1 }, { t: 'yr', it: 1 }], 555, 77, 13, -21, lc);
      drawRich(ctx, [{ t: '10' }, { t: '8', sup: 1 }, { t: 'yr', it: 1 }], 564, 235, 13, -21, lc);
      drawRich(ctx, [{ t: '10' }, { t: '12', sup: 1 }, { t: 'yr', it: 1 }], 560, 396, 13, -21, lc);
      drawRich(ctx, [{ t: 'Ė', it: 1 }, { t: ' = 10' }, { t: '38', sup: 1 }, { t: 'erg/s', it: 1 }], 183, 259, 13, -52, lc);
      drawRich(ctx, [{ t: '10' }, { t: '34', sup: 1 }, { t: 'erg/s', it: 1 }], 273, 318, 13, -50, lc);
      drawRich(ctx, [{ t: '10' }, { t: '30', sup: 1 }, { t: 'erg/s', it: 1 }], 376, 356, 13, -50, lc);
      drawRich(ctx, [{ t: 'NGC 6791   8Gyr', b: 1 }], 516, 332, 13, -21.8, '#000');

      // legend
      const bx = 424.5, by = 463, bw = 170.5, bh = 110;
      ctx.beginPath();
      ctx.roundRect(bx, by, bw, bh, 3);
      ctx.fillStyle = 'rgba(255,255,255,0.85)'; ctx.fill();
      ctx.strokeStyle = '#d0d0d0'; ctx.lineWidth = 1; ctx.stroke();
      const rows = [474, 495.7, 517.3, 539, 561];
      const names = ['Radio pulsar', 'Pulsar in SNR', 'Magnetar', 'Pulsar with GPs', 'PSR J1921+3745'];
      const mx = 444.5;
      ctx.fillStyle = GREEN; ctx.beginPath(); ctx.arc(mx, rows[0], 2.2, 0, Math.PI * 2); ctx.fill();
      ctx.fillStyle = PINK; ctx.fillRect(mx - 4.5, rows[1] - 4.5, 9, 9);
      ctx.drawImage(magImg, mx - magImg.width / 2, rows[2] - magImg.height / 2);
      ctx.fillStyle = BLUE; ctx.beginPath(); ctx.arc(mx, rows[3], 3, 0, Math.PI * 2); ctx.fill();
      ctx.drawImage(starImg, mx - starImg.width / 2, rows[4] - starImg.height / 2);
      ctx.fillStyle = '#000'; ctx.font = '13px ' + FAM; ctx.textAlign = 'left'; ctx.textBaseline = 'middle';
      names.forEach((n, i) => ctx.fillText(n, 470.5, rows[i]));
    })
  ]
});
</script>
</body>
</html>
